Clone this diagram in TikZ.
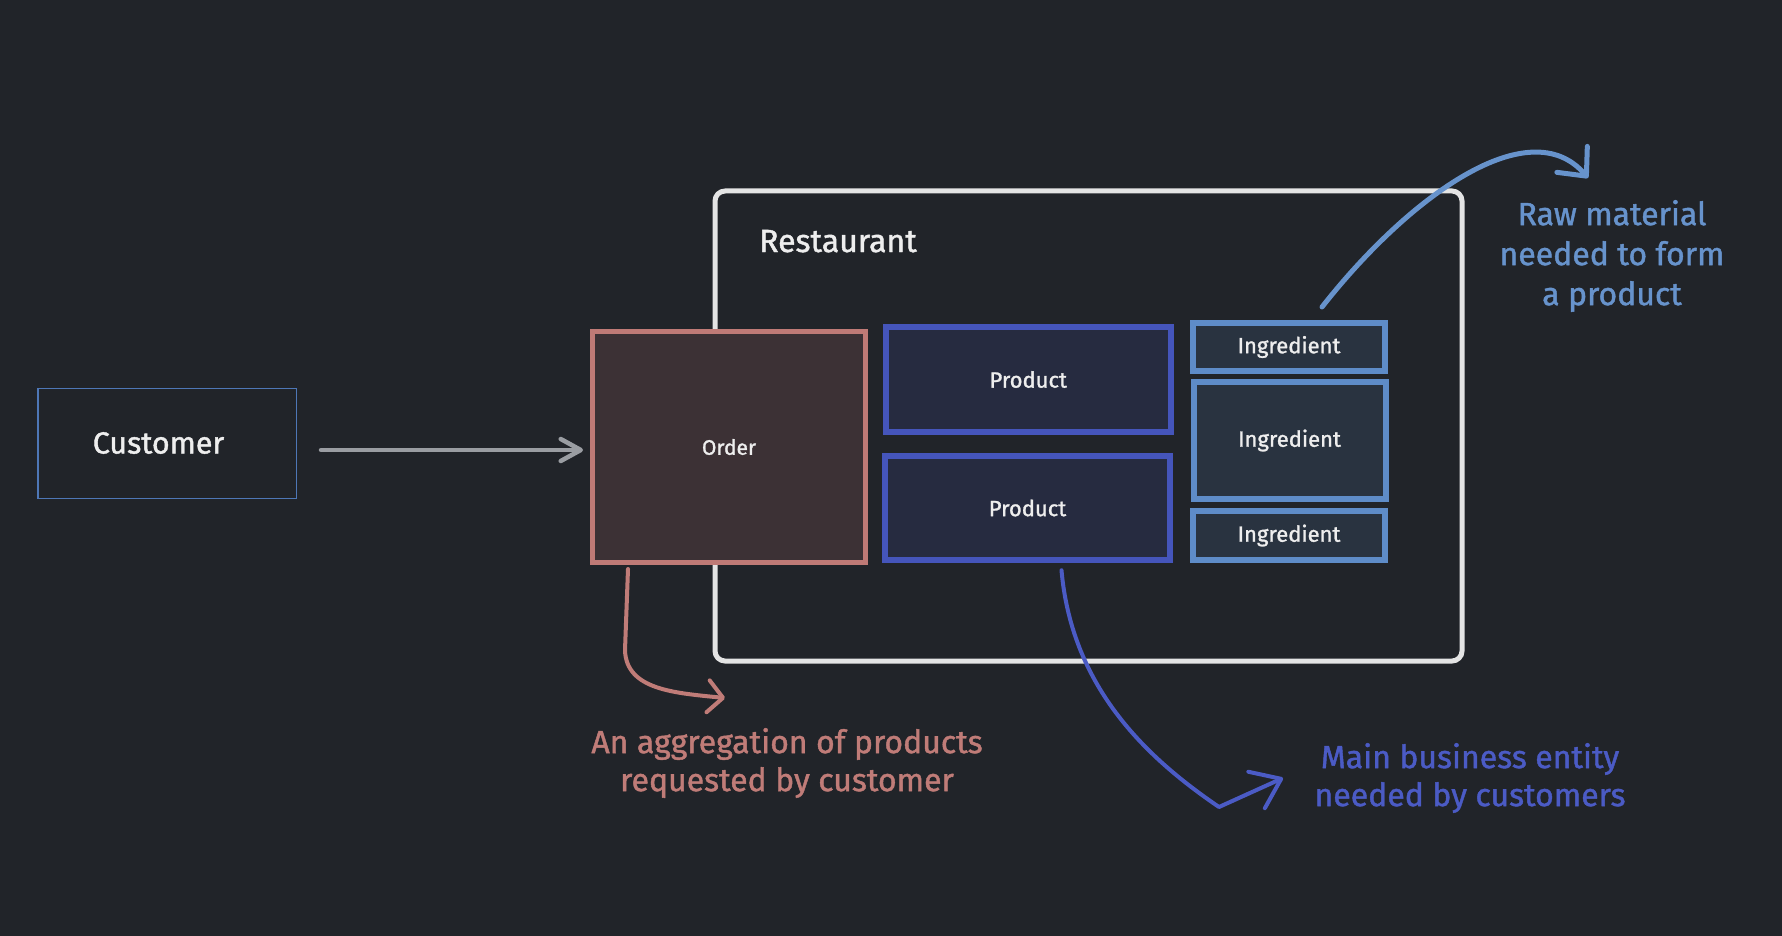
\documentclass[tikz,border=0pt]{standalone}
\usepackage{fontspec}
\setmainfont{Fira Sans}[FakeBold=1.3]
\usetikzlibrary{arrows.meta}
\definecolor{bg}{HTML}{212429}
\definecolor{custblue}{HTML}{4E77B6}
\definecolor{arrowgray}{HTML}{9A9DA2}
\definecolor{restwhite}{HTML}{E4E4E4}
\definecolor{ordstroke}{HTML}{BF7A76}
\definecolor{ordfill}{HTML}{3C3135}
\definecolor{prodstroke}{HTML}{4555BB}
\definecolor{prodfill}{HTML}{262B40}
\definecolor{ingstroke}{HTML}{5E8CC8}
\definecolor{ingfill}{HTML}{293340}
\definecolor{txtwhite}{HTML}{EEEEEE}
\definecolor{notesalmon}{HTML}{C07C78}
\definecolor{notedark}{HTML}{4B5BC5}
\definecolor{notelight}{HTML}{6793CC}
\tikzset{
  boxbase/.style={rectangle, inner sep=0pt, text=txtwhite},
  custbox/.style={boxbase, draw=custblue, line width=1.5pt, minimum width=258.5pt, minimum height=110pt},
  ordbox/.style={boxbase, draw=ordstroke, fill=ordfill, line width=5pt, minimum width=273pt, minimum height=231pt, font=\fontsize{21}{25}\selectfont},
  prodbox/.style={boxbase, draw=prodstroke, fill=prodfill, line width=6pt, minimum width=285pt, minimum height=104.5pt, font=\fontsize{22}{26}\selectfont},
  ingbox/.style={boxbase, draw=ingstroke, fill=ingfill, line width=6pt, minimum width=192pt, font=\fontsize{22}{26}\selectfont},
  note/.style={align=center, inner sep=0pt},
  conn/.style={line cap=round, line join=round},
}
\begin{document}
\begin{tikzpicture}[x=1pt,y=-1pt]
\fill[bg] (0,0) rectangle (1782,936);
\useasboundingbox (0,0) rectangle (1782,936);

% Restaurant container
\draw[restwhite, line width=5pt, rounded corners=10pt] (715,191) rectangle (1462,661);
\node[anchor=base west, text=txtwhite, inner sep=0pt, font=\fontsize{32}{36}\selectfont] (restlbl) at (759,252) {Restaurant};

% Customer
\node[custbox] (cust) at (167,443.5) {};
\node[text=txtwhite, inner sep=0pt, font=\fontsize{30.5}{34}\selectfont] (custlbl) at (158.5,443) {Customer};

% Order
\node[ordbox] (order) at (729,447) {Order};

% Products
\node[prodbox] (prod1) at (1028.25,379.5) {Product};
\node[prodbox] (prod2) at (1027.5,508) {Product};

% Ingredients
\node[ingbox, minimum height=48pt] (ing1) at (1289,347) {Ingredient};
\node[ingbox, minimum height=117pt] (ing2) at (1289.5,440.5) {Ingredient};
\node[ingbox, minimum height=49pt] (ing3) at (1289,535.5) {Ingredient};

% Customer -> Order
\draw[conn, arrowgray, line width=4.5pt, -{Straight Barb[length=20pt, width=22pt, line cap=round, line join=round]}]
  ([shift={(24,6.5)}]cust.east) -- ([shift={(-7,3)}]order.west);

% Notes
\node[note, text=notesalmon, font=\fontsize{32}{38}\selectfont] (aggnote) at (787,763) {An aggregation of products\\requested by customer};
\node[note, text=notedark, font=\fontsize{32}{38}\selectfont] (mainnote) at (1470,778) {Main business entity\\needed by customers};
\node[note, text=notelight, font=\fontsize{32}{40}\selectfont] (rawnote) at (1612,256) {Raw material\\needed to form\\a product};

\coordinate (aggtip) at (725,698);
\coordinate (maintip) at (1283,778);
\coordinate (rawtip) at (1588,178);

% Order -> note
\draw[conn, notesalmon, line width=4pt, -{Straight Barb[length=15pt, width=32pt, line cap=round, line join=round]}]
  ([shift={(-101,4)}]order.south) -- (625,650) .. controls (626,690) and (675,693) .. (aggtip);

% Product -> note
\draw[conn, notedark, line width=4pt, -{Straight Barb[length=27pt, width=40pt, line cap=round, line join=round]}]
  ([shift={(34,7)}]prod2.south) .. controls (1072,690) and (1150,760) .. (1219,807) -- (maintip);

% Ingredient -> note
\draw[conn, notelight, line width=5pt, -{Straight Barb[length=22pt, width=40pt, line cap=round, line join=round]}]
  ([shift={(33,-13)}]ing1.north) .. controls (1410,195) and (1530,110) .. (rawtip);
\end{tikzpicture}
\end{document}
